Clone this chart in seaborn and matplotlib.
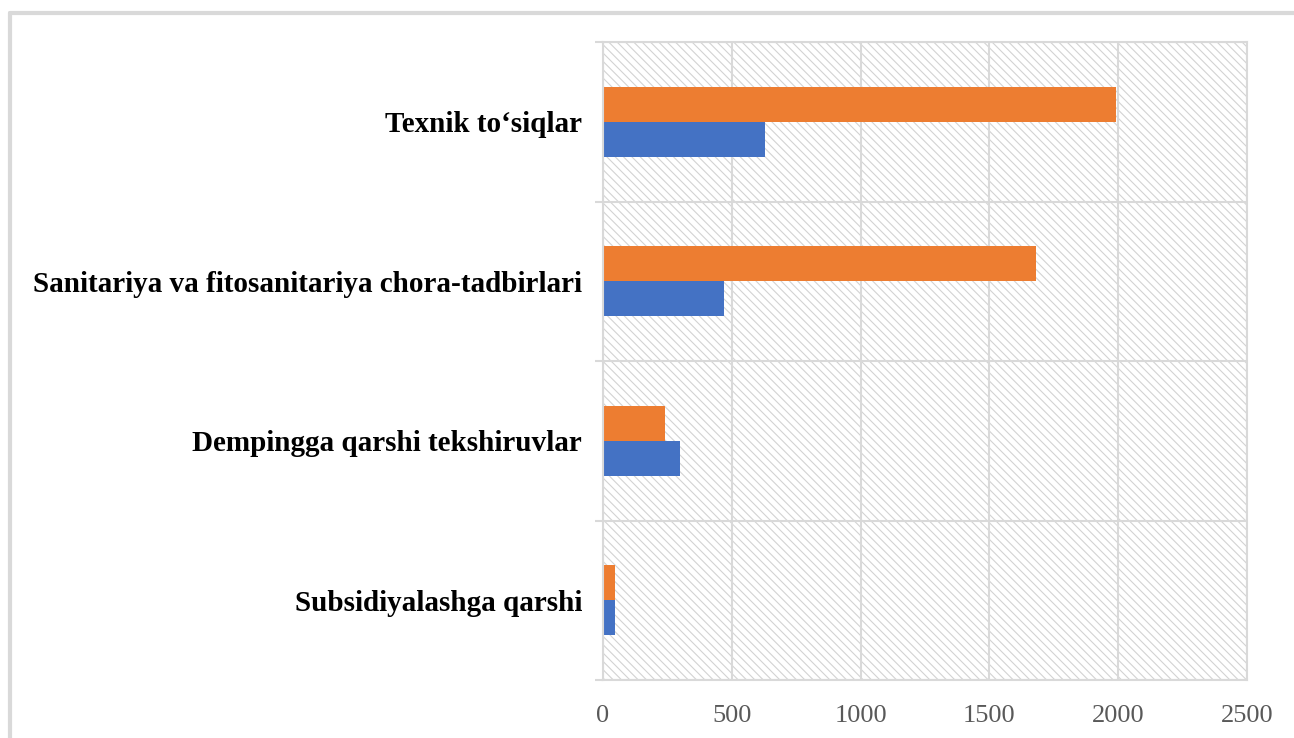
import numpy as np
import pandas as pd
import matplotlib
matplotlib.use('Agg')
import matplotlib.pyplot as plt
from matplotlib.patches import Rectangle
from matplotlib.lines import Line2D
import seaborn as sns

# ==========================================
# 数据
# ==========================================
categories = ['Texnik to‘siqlar',
              'Sanitariya va fitosanitariya chora-tadbirlari',
              'Dempingga qarshi tekshiruvlar',
              'Subsidiyalashga qarshi']
series_names = ['Seriya 2', 'Seriya 1']
values_orange = [1990, 1680, 240, 45]
values_blue = [630, 470, 300, 45]
x_ticks = [0, 500, 1000, 1500, 2000, 2500]

df = pd.DataFrame({
    'Kategoriya': categories * 2,
    'Qiymat': values_orange + values_blue,
    'Seriya': [series_names[0]] * len(categories) + [series_names[1]] * len(categories),
})

# ==========================================
# 样式
# ==========================================
sns.set_theme(style='white')
plt.rcParams['font.family'] = ['Liberation Serif', 'DejaVu Serif']
plt.rcParams['hatch.linewidth'] = 0.8
plt.rcParams['hatch.color'] = '#d3d3d3'

grid_c = '#d9d9d9'
W, H = 1294, 738

fig = plt.figure(figsize=(W / 100, H / 100), dpi=100)
ax = fig.add_axes([603 / W, 1 - 680 / H, (1247 - 603) / W, (680 - 42) / H])

# 斜线底纹
bg = Rectangle((0, 0), 1, 1, transform=ax.transAxes, facecolor='white',
               edgecolor='#d3d3d3', hatch='\\\\\\\\', lw=0, zorder=0.1)
ax.add_patch(bg)

sns.barplot(data=df, y='Kategoriya', x='Qiymat', hue='Seriya', orient='h',
            palette=['#ED7D31', '#4472C4'], saturation=1, width=0.44, gap=0,
            dodge=True, linewidth=0, legend=False, ax=ax, zorder=2)

ax.set_xlim(0, 2500)
ax.set_ylim(3.5, -0.5)
ax.set_xticks(x_ticks)
ax.set_xticklabels([str(t) for t in x_ticks], fontsize=19, color='#595959')
ax.set_yticks(range(len(categories)))
ax.set_yticklabels(categories, fontsize=21, fontweight='bold', color='black')
ax.set_yticks([-0.5, 0.5, 1.5, 2.5, 3.5], minor=True)
ax.set_xlabel('')
ax.set_ylabel('')

ax.set_axisbelow(True)
ax.grid(axis='x', which='major', color=grid_c, lw=1.5)
ax.grid(axis='y', which='minor', color=grid_c, lw=1.5)
ax.grid(axis='y', which='major', visible=False)
ax.tick_params(axis='x', which='major', length=0, pad=18)
ax.tick_params(axis='y', which='major', length=0, pad=15)
ax.tick_params(axis='y', which='minor', length=6, width=1.5, color=grid_c, left=True)
for s in ax.spines.values():
    s.set_color(grid_c)
    s.set_linewidth(1.5)

# 外框 (上边和左边)
top_y = 1 - 13 / H
left_x = 10 / W
fig.add_artist(Line2D([left_x, 1.0], [top_y, top_y], transform=fig.transFigure,
                      color='#d9d9d9', lw=3))
fig.add_artist(Line2D([left_x, left_x], [0.0, top_y], transform=fig.transFigure,
                      color='#d9d9d9', lw=3))

fig.savefig('out.png', dpi=100)
